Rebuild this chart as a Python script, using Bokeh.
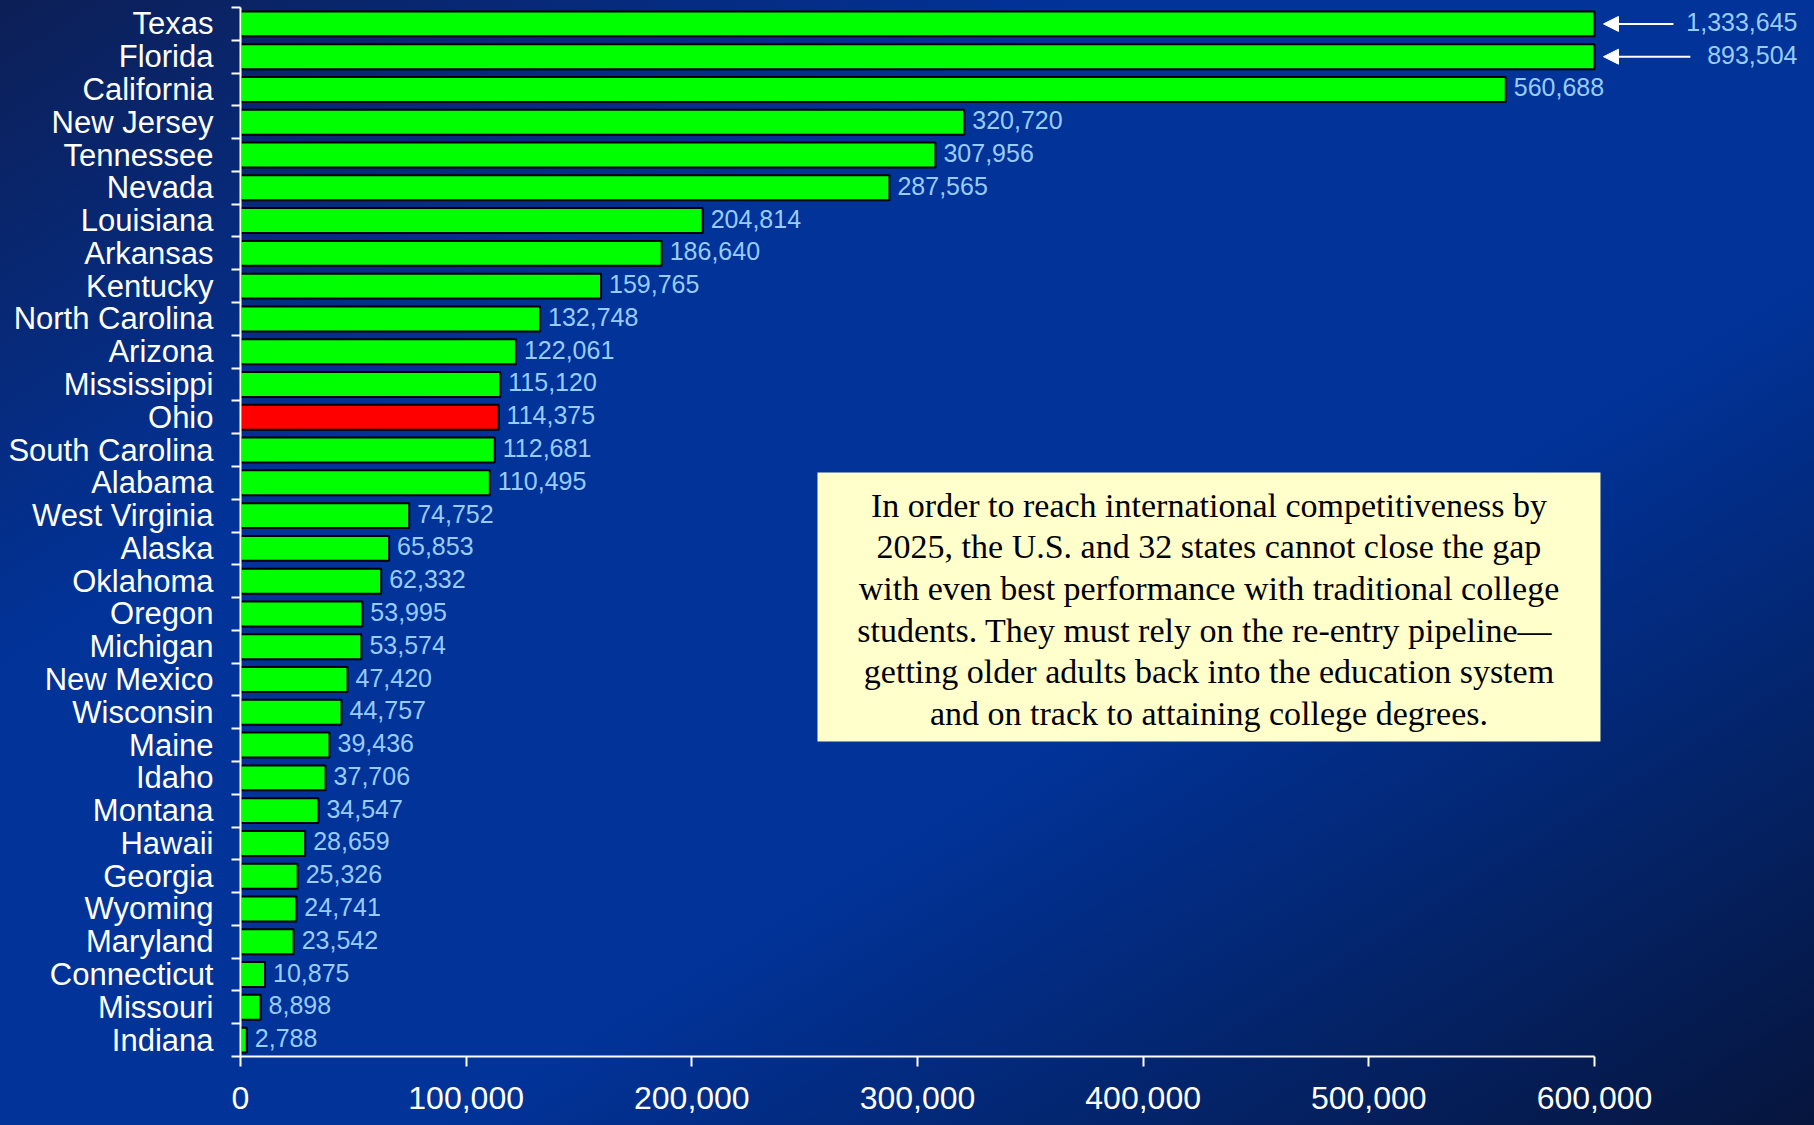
from bokeh.plotting import figure
from bokeh.models import (Range1d, FixedTicker, NumeralTickFormatter, ColumnDataSource,
                          Arrow, NormalHead, BoxAnnotation, Label)
from bokeh.core.properties import value
from bokeh.embed import file_html
from bokeh.resources import INLINE

# ---------------- data ----------------
states = ["Texas", "Florida", "California", "New Jersey", "Tennessee", "Nevada", "Louisiana",
          "Arkansas", "Kentucky", "North Carolina", "Arizona", "Mississippi", "Ohio",
          "South Carolina", "Alabama", "West Virginia", "Alaska", "Oklahoma", "Oregon",
          "Michigan", "New Mexico", "Wisconsin", "Maine", "Idaho", "Montana", "Hawaii",
          "Georgia", "Wyoming", "Maryland", "Connecticut", "Missouri", "Indiana"]
values = [1333645, 893504, 560688, 320720, 307956, 287565, 204814, 186640, 159765, 132748,
          122061, 115120, 114375, 112681, 110495, 74752, 65853, 62332, 53995, 53574, 47420,
          44757, 39436, 37706, 34547, 28659, 25326, 24741, 23542, 10875, 8898, 2788]
x_ticks = [0, 100000, 200000, 300000, 400000, 500000, 600000]
highlight = "Ohio"
note_lines = [
    "In order to reach international competitiveness by",
    "2025, the U.S. and 32 states cannot close the gap",
    "with even best performance with traditional college",
    "students.  They must rely on the re-entry pipeline\u2014",
    "getting older adults back into the education system",
    "and on track to attaining college degrees.",
]

# ---------------- layout ----------------
AXIS_MAX = x_ticks[-1]
X_END = 697500
n = len(states)
GRADIENT = "linear-gradient(to bottom right, #0d1f56 0%, #013399 30%, #013399 62%, #06153d 100%)"

p = figure(frame_width=1574, frame_height=1049, output_backend="svg", toolbar_location=None,
           x_range=Range1d(0, X_END), y_range=Range1d(0, n),
           min_border_left=240, min_border_right=0, min_border_top=7, min_border_bottom=69)
p.background_fill_color = None
p.border_fill_color = None
p.outline_line_color = None
p.styles = {"background": GRADIENT}
p.xgrid.grid_line_color = None
p.ygrid.grid_line_color = None

centers = [n - i - 0.5 for i in range(n)]
shown = [min(v, AXIS_MAX) for v in values]
colors = ["#ff0000" if s == highlight else "#00ff00" for s in states]
labels = ["{:,}".format(v) for v in values]

src = ColumnDataSource(dict(y=centers, right=shown, color=colors))
p.hbar(y="y", left=0, right="right", height=0.76, fill_color="color",
       line_color="black", line_width=2, source=src)

inside = [i for i, v in enumerate(values) if v <= AXIS_MAX]
lsrc = ColumnDataSource(dict(x=[values[i] for i in inside], y=[centers[i] for i in inside],
                             label=[labels[i] for i in inside]))
p.text(x="x", y="y", text="label", source=lsrc, x_offset=8, y_offset=-2,
       text_font=value("Liberation Sans"), text_font_size="25px", text_color="#99ccff",
       text_baseline="middle", text_align="left")

# overflow labels with arrows
over = [i for i, v in enumerate(values) if v > AXIS_MAX]
tails = [635000, 642500]
for k, i in enumerate(over):
    p.add_layout(Label(x=X_END, y=centers[i], x_offset=-17, y_offset=2, text=labels[i],
                       text_font="Liberation Sans", text_font_size="25px", text_color="#99ccff",
                       text_baseline="middle", text_align="right"))
    p.add_layout(Arrow(x_start=tails[k], y_start=centers[i], x_end=AXIS_MAX + 4000, y_end=centers[i],
                       line_color="white", line_width=2,
                       end=NormalHead(size=15, fill_color="white", line_color="white", line_width=1)))

# axes
xa = p.xaxis[0]
xa.ticker = FixedTicker(ticks=x_ticks)
xa.formatter = NumeralTickFormatter(format="0,0")
xa.bounds = (0, AXIS_MAX)
xa.axis_line_color = "white"
xa.axis_line_width = 2
xa.major_tick_line_color = "white"
xa.major_tick_line_width = 2
xa.major_tick_out = 10
xa.major_tick_in = 0
xa.minor_tick_line_color = None
xa.major_label_text_color = "white"
xa.major_label_text_font = "Liberation Sans"
xa.major_label_text_font_size = "32px"
xa.major_label_standoff = 20

ya = p.yaxis[0]
ya.ticker = FixedTicker(ticks=centers, minor_ticks=list(range(n + 1)))
ya.major_label_overrides = {c: s for c, s in zip(centers, states)}
ya.axis_line_color = "white"
ya.axis_line_width = 2
ya.major_tick_line_color = None
ya.major_tick_out = 0
ya.major_tick_in = 0
ya.minor_tick_line_color = "white"
ya.minor_tick_line_width = 2
ya.minor_tick_out = 9
ya.minor_tick_in = 0
ya.major_label_text_color = "white"
ya.major_label_text_font = "Liberation Sans"
ya.major_label_text_font_size = "31px"
ya.major_label_standoff = 18

# note box
px_per_x = (1594 - 240) / AXIS_MAX
px_per_y = (1056 - 7) / n
def dx(px):
    return (px - 240) / px_per_x
def dy(py):
    return n - (py - 7) / px_per_y

p.add_layout(BoxAnnotation(left=dx(817), right=dx(1600), top=dy(472), bottom=dy(741),
                           fill_color="#ffffcc", fill_alpha=1.0, line_color=None))
line_y = [504.5, 546, 588, 629.5, 671, 712.5]
for t, ly in zip(note_lines, line_y):
    p.add_layout(Label(x=dx(1208.5), y=dy(ly), text=t, text_font="Liberation Serif",
                       text_font_size="34px", text_color="black",
                       text_align="center", text_baseline="middle"))

html = file_html(p, INLINE)
html = html.replace("<body>", '<body style="margin:0; overflow:hidden; background-color:#06153d">', 1)
open("out.html", "w").write(html)
